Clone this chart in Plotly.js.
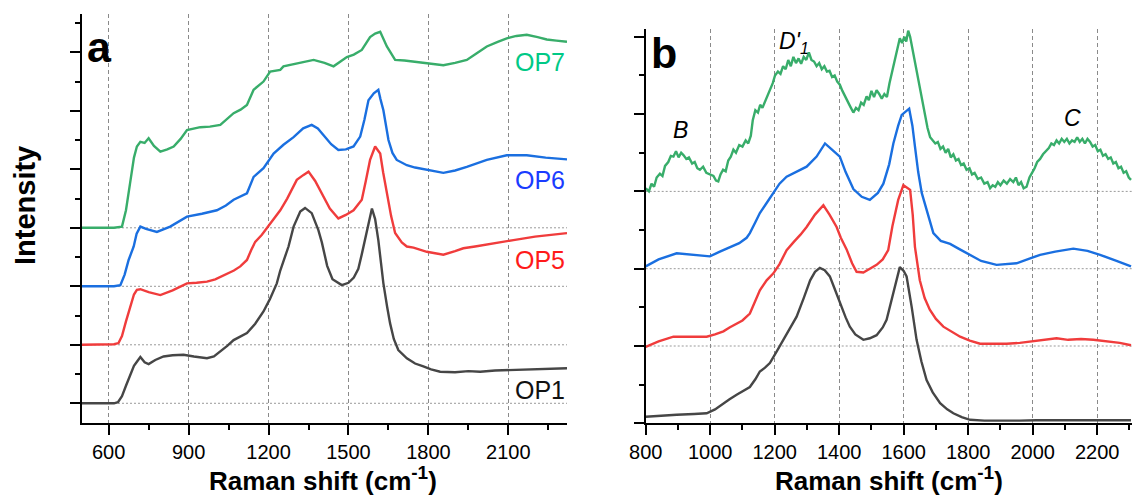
<!DOCTYPE html>
<html>
<head>
<meta charset="utf-8">
<script src="https://cdn.plot.ly/plotly-3.0.1.min.js"></script>
<style>html,body{margin:0;padding:0;background:#fff}#chart{width:1132px;height:499px}</style>
</head>
<body>
<div id="chart"></div>
<script>
// ---------- Panel a data (Raman shift, offset intensity) ----------
const aOP1x = [500,560,620,635,650,665,680,695,706,719,735,750,775,806,840,881,920,969,995,1019,1045,1069,1095,1119,1150,1181,1205,1231,1244,1275,1294,1319,1337,1362,1387,1400,1420,1440,1475,1500,1520,1537,1550,1562,1575,1588,1600,1612,1622,1631,1645,1656,1670,1687,1719,1750,1781,1810,1844,1900,1950,1994,2050,2118,2200,2260,2320];
const aOP1y = [0,0,0,0.02,0.12,0.30,0.48,0.64,0.71,0.79,0.70,0.67,0.74,0.80,0.82,0.83,0.80,0.77,0.80,0.88,0.98,1.08,1.14,1.20,1.36,1.57,1.78,2.05,2.27,2.68,3.02,3.28,3.34,3.25,2.96,2.75,2.35,2.12,2.02,2.06,2.15,2.30,2.55,2.79,3.10,3.33,3.15,2.79,2.40,2.05,1.65,1.37,1.10,0.91,0.77,0.68,0.63,0.58,0.54,0.53,0.55,0.54,0.56,0.57,0.58,0.59,0.60];

const aOP5x = [500,560,620,637,650,665,680,695,706,719,750,794,840,894,930,969,1000,1044,1070,1094,1119,1135,1150,1175,1194,1220,1244,1270,1306,1330,1350,1375,1406,1430,1462,1490,1519,1550,1565,1581,1600,1619,1630,1644,1660,1675,1700,1719,1744,1794,1856,1900,1931,1975,2019,2070,2119,2200,2260,2320];
const aOP5y = [1.0,1.0,1.01,1.03,1.15,1.40,1.65,1.86,1.94,1.95,1.90,1.85,1.93,2.05,2.06,2.08,2.12,2.22,2.27,2.34,2.45,2.62,2.76,2.88,3.00,3.15,3.30,3.50,3.82,3.90,3.96,3.80,3.53,3.33,3.16,3.22,3.30,3.48,3.80,4.16,4.39,4.27,3.95,3.59,3.20,2.91,2.75,2.68,2.66,2.59,2.54,2.60,2.65,2.68,2.71,2.75,2.79,2.85,2.88,2.91];

const aOP6x = [500,560,620,644,660,675,694,705,719,740,781,831,860,894,950,1006,1040,1069,1119,1144,1181,1219,1256,1294,1330,1362,1385,1406,1435,1462,1490,1519,1544,1560,1575,1595,1612,1620,1631,1650,1665,1681,1719,1750,1794,1856,1900,1944,2019,2094,2169,2240,2320];
const aOP6y = [2.0,2.0,2.0,2.02,2.20,2.45,2.68,2.90,3.02,2.98,2.93,3.02,3.10,3.19,3.24,3.30,3.38,3.48,3.59,3.87,4.02,4.27,4.42,4.55,4.70,4.76,4.70,4.59,4.43,4.33,4.34,4.39,4.56,4.85,5.18,5.30,5.36,5.20,5.01,4.50,4.28,4.16,4.07,4.03,3.99,3.94,3.98,4.04,4.16,4.24,4.24,4.20,4.17];

const aOP7x = [500,560,620,650,665,680,695,706,719,735,750,770,794,820,844,870,894,944,980,1019,1045,1069,1095,1119,1144,1181,1206,1244,1256,1306,1340,1369,1410,1444,1494,1520,1550,1581,1600,1619,1644,1675,1710,1744,1794,1856,1900,1944,1980,2019,2060,2094,2130,2169,2210,2244,2280,2320];
const aOP7y = [3.0,3.0,3.0,3.02,3.30,3.75,4.20,4.39,4.47,4.45,4.53,4.40,4.30,4.34,4.39,4.52,4.67,4.72,4.73,4.76,4.86,4.96,5.02,5.10,5.36,5.50,5.67,5.70,5.76,5.81,5.85,5.87,5.82,5.76,5.92,5.96,6.04,6.26,6.32,6.35,6.10,5.87,5.86,5.84,5.81,5.78,5.82,5.87,5.98,6.10,6.18,6.24,6.28,6.30,6.26,6.22,6.20,6.18];

// ---------- Panel b data ----------
const bOP1x = [800,850,896,950,989,1015,1041,1060,1082,1100,1123,1140,1154,1170,1185,1205,1227,1250,1268,1290,1310,1325,1340,1355,1371,1385,1402,1420,1433,1450,1475,1495,1516,1535,1547,1560,1573,1588,1600,1609,1625,1640,1655,1671,1690,1713,1735,1754,1780,1806,1850,1909,1960,2011,2060,2110,2160,2220,2305];
const bOP1y = [0.085,0.10,0.11,0.12,0.13,0.18,0.26,0.31,0.37,0.41,0.47,0.57,0.67,0.72,0.78,0.92,1.08,1.25,1.38,1.62,1.85,1.96,2.01,1.98,1.90,1.75,1.56,1.37,1.25,1.15,1.08,1.10,1.14,1.24,1.34,1.55,1.77,2.02,1.97,1.90,1.50,1.08,0.80,0.56,0.40,0.26,0.18,0.13,0.08,0.045,0.035,0.03,0.035,0.04,0.04,0.035,0.04,0.035,0.04];

const bOP5x = [800,840,886,940,989,1015,1041,1060,1082,1100,1123,1140,1154,1175,1196,1215,1237,1260,1280,1299,1325,1351,1370,1392,1405,1423,1440,1454,1475,1495,1516,1535,1552,1565,1583,1599,1620,1628,1635,1650,1665,1681,1700,1723,1750,1775,1805,1837,1880,1919,1960,2000,2040,2074,2110,2150,2188,2230,2270,2305];
const bOP5y = [0.99,1.06,1.12,1.12,1.12,1.15,1.19,1.24,1.29,1.33,1.42,1.58,1.72,1.85,1.94,2.06,2.24,2.35,2.44,2.54,2.70,2.82,2.70,2.54,2.40,2.25,2.07,1.96,1.95,2.00,2.05,2.12,2.24,2.55,2.89,3.08,3.02,2.70,2.28,1.85,1.62,1.47,1.35,1.25,1.18,1.12,1.07,1.03,1.03,1.03,1.04,1.06,1.08,1.10,1.08,1.09,1.08,1.06,1.04,1.01];

const bOP6x = [800,840,896,950,999,1030,1061,1090,1113,1123,1140,1154,1175,1196,1215,1237,1270,1299,1330,1356,1375,1392,1402,1420,1444,1470,1495,1520,1537,1555,1568,1583,1594,1617,1627,1635,1645,1656,1675,1692,1715,1744,1770,1795,1840,1888,1920,1950,1990,2023,2070,2126,2170,2209,2260,2305];
const bOP6y = [2.03,2.12,2.20,2.18,2.16,2.22,2.28,2.33,2.40,2.46,2.60,2.72,2.85,2.98,3.10,3.19,3.26,3.32,3.45,3.62,3.55,3.49,3.45,3.25,3.03,2.93,2.89,2.98,3.10,3.35,3.62,3.85,3.99,4.07,3.85,3.58,3.25,2.98,2.70,2.46,2.36,2.32,2.26,2.20,2.10,2.05,2.06,2.07,2.13,2.18,2.22,2.26,2.23,2.18,2.10,2.03];

const bOP7x = [800,810,818,826,834,844,852,860,870,878,886,894,902,910,917,926,934,944,952,960,968,978,988,1000,1010,1018,1025,1032,1040,1048,1056,1064,1072,1080,1090,1100,1110,1118,1126,1132,1140,1148,1155,1162,1170,1178,1186,1194,1201,1210,1218,1226,1234,1242,1250,1258,1266,1274,1282,1290,1298,1306,1314,1322,1330,1338,1346,1354,1362,1370,1378,1386,1394,1402,1410,1418,1426,1434,1444,1452,1460,1468,1476,1485,1492,1500,1508,1516,1524,1532,1540,1548,1556,1564,1572,1580,1588,1595,1602,1608,1614,1620,1627,1634,1642,1650,1658,1666,1674,1682,1690,1698,1706,1714,1722,1730,1738,1746,1754,1762,1770,1778,1786,1795,1804,1812,1820,1830,1840,1850,1860,1868,1876,1884,1892,1900,1910,1920,1930,1940,1948,1956,1964,1972,1981,1990,1998,2006,2014,2023,2032,2040,2050,2058,2066,2074,2082,2090,2098,2106,2114,2122,2130,2138,2146,2154,2162,2170,2178,2186,2194,2202,2210,2218,2226,2234,2242,2250,2258,2266,2274,2282,2290,2298,2305];
const bOP7y = [3.04,3.00,3.10,3.06,3.18,3.23,3.20,3.33,3.38,3.46,3.45,3.52,3.44,3.50,3.47,3.42,3.44,3.36,3.38,3.30,3.28,3.32,3.24,3.22,3.20,3.14,3.13,3.22,3.28,3.26,3.40,3.45,3.54,3.50,3.60,3.58,3.66,3.62,3.72,3.92,4.05,4.02,4.12,4.08,4.16,4.22,4.30,4.40,4.50,4.55,4.52,4.62,4.58,4.70,4.62,4.74,4.66,4.72,4.65,4.74,4.70,4.80,4.70,4.68,4.62,4.66,4.58,4.62,4.55,4.56,4.48,4.50,4.42,4.38,4.30,4.24,4.16,4.10,4.02,4.08,4.05,4.15,4.12,4.23,4.18,4.30,4.22,4.31,4.26,4.20,4.26,4.22,4.40,4.55,4.70,4.86,4.98,4.92,5.00,4.94,5.08,5.00,4.84,4.70,4.52,4.36,4.18,3.96,3.82,3.70,3.66,3.62,3.64,3.55,3.58,3.50,3.55,3.44,3.48,3.40,3.42,3.34,3.36,3.28,3.30,3.22,3.24,3.16,3.18,3.10,3.12,3.04,3.08,3.06,3.12,3.08,3.14,3.10,3.16,3.12,3.18,3.08,3.12,3.04,3.06,3.18,3.24,3.30,3.38,3.42,3.48,3.52,3.56,3.62,3.60,3.66,3.62,3.68,3.64,3.68,3.62,3.66,3.64,3.70,3.64,3.68,3.62,3.68,3.64,3.58,3.60,3.52,3.54,3.46,3.48,3.42,3.44,3.36,3.38,3.30,3.32,3.24,3.26,3.18,3.15];

const seriesNames = ['OP1','OP5','OP6','OP7'];
const lineColors = ['#464646','#f03c3c','#1a6fe0','#38ad6a'];
const labelColors = ['#111111','#ff1a1a','#1a3cff','#00c986'];
const baselinesA = [0,1,2,3];
const baselinesB = [1,2,3];

const W = 1132, H = 499;
const px = v => v / W, py = v => 1 - v / H;
const FONT = 'Liberation Sans, Arial, sans-serif';

const aX = [aOP1x, aOP5x, aOP6x, aOP7x], aY = [aOP1y, aOP5y, aOP6y, aOP7y];
const bX = [bOP1x, bOP5x, bOP6x, bOP7x], bY = [bOP1y, bOP5y, bOP6y, bOP7y];

const traces = [];
for (let i = 0; i < 4; i++) {
  traces.push({x: aX[i], y: aY[i], xaxis: 'x', yaxis: 'y', mode: 'lines', name: seriesNames[i],
    line: {color: lineColors[i], width: 2.4}, showlegend: false, hoverinfo: 'skip'});
}
for (let i = 0; i < 4; i++) {
  traces.push({x: bX[i], y: bY[i], xaxis: 'x2', yaxis: 'y2', mode: 'lines', name: seriesNames[i],
    line: {color: lineColors[i], width: 2.4}, showlegend: false, hoverinfo: 'skip'});
}

const axisCommon = {
  showline: true, linecolor: '#000', linewidth: 2, mirror: false,
  ticks: 'outside', ticklen: 10, tickwidth: 2, tickcolor: '#000',
  zeroline: false, fixedrange: true,
  tickfont: {family: FONT, size: 20, color: '#000'}
};
const xgrid = {showgrid: true, gridcolor: '#8a8a8a', gridwidth: 1, griddash: '4px,3px'};

const shapes = [];
baselinesA.forEach(b => shapes.push({type: 'line', xref: 'x domain', yref: 'y', x0: 0, x1: 1, y0: b, y1: b,
  line: {color: '#9a9a9a', width: 1, dash: '2px,2px'}, layer: 'below'}));
baselinesB.forEach(b => shapes.push({type: 'line', xref: 'x2 domain', yref: 'y2', x0: 0, x1: 1, y0: b, y1: b,
  line: {color: '#9a9a9a', width: 1, dash: '2px,2px'}, layer: 'below'}));

const labelY = [390, 260, 180, 62];
const annotations = [];
for (let i = 0; i < 4; i++) {
  annotations.push({xref: 'paper', yref: 'paper', x: px(567), y: py(labelY[i]), xanchor: 'right', yanchor: 'middle',
    text: seriesNames[i], showarrow: false, font: {family: FONT, size: 25, color: labelColors[i]}});
}
const xTitle = '<b>Raman shift (cm<sup><span style="font-size:19px">-1</span></sup>)</b>';
annotations.push(
  {xref: 'paper', yref: 'paper', x: px(85), y: py(47), xanchor: 'left', yanchor: 'middle', text: '<b>a</b>', showarrow: false, font: {family: FONT, size: 43, color: '#000'}},
  {xref: 'paper', yref: 'paper', x: px(649), y: py(53), xanchor: 'left', yanchor: 'middle', text: '<b>b</b>', showarrow: false, font: {family: FONT, size: 43, color: '#000'}},
  {xref: 'paper', yref: 'paper', x: px(681), y: py(130), xanchor: 'center', yanchor: 'middle', text: '<i>B</i>', showarrow: false, font: {family: FONT, size: 23, color: '#000'}},
  {xref: 'paper', yref: 'paper', x: px(1072), y: py(118), xanchor: 'center', yanchor: 'middle', text: '<i>C</i>', showarrow: false, font: {family: FONT, size: 23, color: '#000'}},
  {xref: 'paper', yref: 'paper', x: px(777), y: py(43), xanchor: 'left', yanchor: 'middle', text: "<i>D'<sub>1</sub></i>", showarrow: false, font: {family: FONT, size: 23, color: '#000'}},
  {xref: 'paper', yref: 'paper', x: px(25), y: py(206), xanchor: 'center', yanchor: 'middle', textangle: -90, text: '<b>Intensity</b>', showarrow: false, font: {family: FONT, size: 29, color: '#000'}},
  {xref: 'paper', yref: 'paper', x: px(323), y: py(479), xanchor: 'center', yanchor: 'middle', text: xTitle, showarrow: false, font: {family: FONT, size: 26, color: '#000'}},
  {xref: 'paper', yref: 'paper', x: px(889), y: py(479), xanchor: 'center', yanchor: 'middle', text: xTitle, showarrow: false, font: {family: FONT, size: 26, color: '#000'}}
);

const layout = {
  width: W, height: H,
  margin: {l: 0, r: 0, t: 0, b: 0},
  paper_bgcolor: '#fff', plot_bgcolor: 'rgba(0,0,0,0)',
  showlegend: false,
  xaxis: Object.assign({}, axisCommon, xgrid, {domain: [px(82), px(567)], range: [500, 2320], tick0: 600, dtick: 300,
    minor: {dtick: 150, tick0: 600, ticks: 'outside', ticklen: 5, tickwidth: 2, tickcolor: '#000', showgrid: false}, anchor: 'y'}),
  yaxis: Object.assign({}, axisCommon, {domain: [1 - 423 / H, 1 - 14 / H], range: [-0.337, 6.655], tick0: 0, dtick: 1,
    showticklabels: false, showgrid: false,
    minor: {dtick: 0.5, tick0: 0, ticks: 'outside', ticklen: 5, tickwidth: 2, tickcolor: '#000', showgrid: false}, anchor: 'x'}),
  xaxis2: Object.assign({}, axisCommon, xgrid, {domain: [px(645.7), 1], range: [800, 2308], tick0: 800, dtick: 200,
    minor: {dtick: 100, tick0: 800, ticks: 'outside', ticklen: 5, tickwidth: 2, tickcolor: '#000', showgrid: false}, anchor: 'y2'}),
  yaxis2: Object.assign({}, axisCommon, {domain: [1 - 423.3 / H, 1 - 29.3 / H], range: [0, 5.097], tick0: 0, dtick: 1,
    showticklabels: false, showgrid: false,
    minor: {dtick: 0.5, tick0: 0, ticks: 'outside', ticklen: 5, tickwidth: 2, tickcolor: '#000', showgrid: false}, anchor: 'x2'}),
  shapes: shapes,
  annotations: annotations
};

Plotly.newPlot('chart', traces, layout, {staticPlot: true, displayModeBar: false});
</script>
</body>
</html>
